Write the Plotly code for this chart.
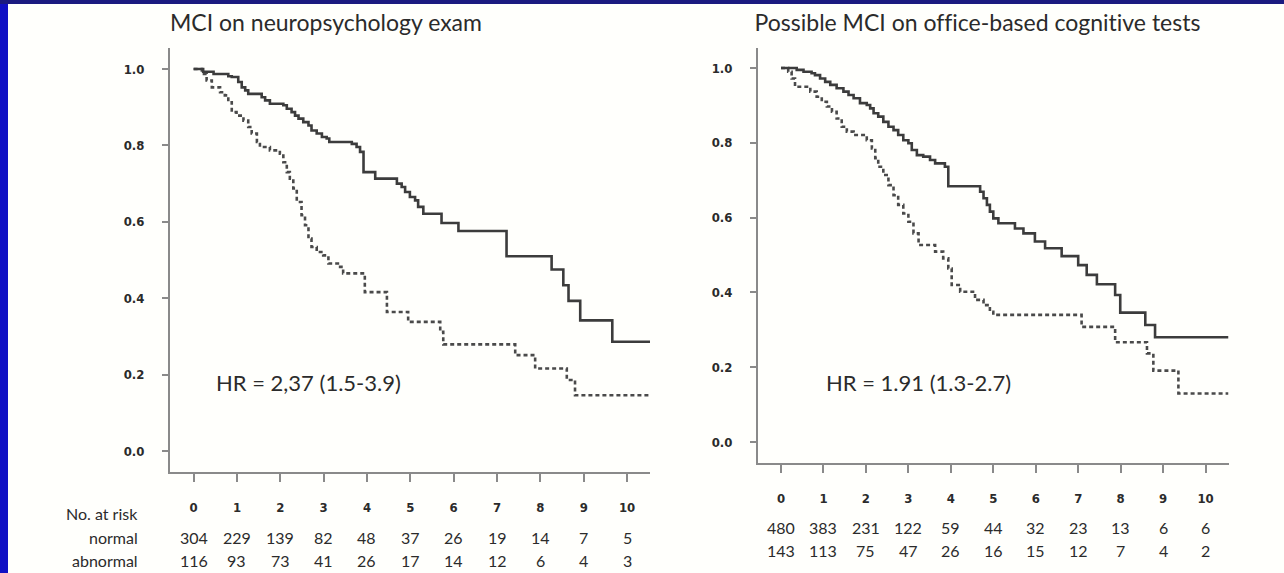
import plotly.graph_objects as go

W, H = 1284, 573

# ---------------- data ----------------
years = list(range(11))
y_ticks = [0.0, 0.2, 0.4, 0.6, 0.8, 1.0]

# Panel 1: MCI on neuropsychology exam
p1_normal_t = [0, 0.22, 0.46, 0.80, 0.88, 1.03, 1.11, 1.19, 1.26, 1.57, 1.65, 1.76, 2.07, 2.15, 2.26,
               2.34, 2.42, 2.53, 2.65, 2.72, 2.84, 2.96, 3.07, 3.13, 3.65, 3.76, 3.84, 3.92, 4.19, 4.69,
               4.80, 4.88, 4.99, 5.11, 5.18, 5.30, 5.72, 6.11, 7.22, 8.26, 8.53, 8.65, 8.92, 9.66, 10.53]
p1_normal_s = [1.0, 0.993, 0.987, 0.981, 0.979, 0.966, 0.952, 0.944, 0.935, 0.926, 0.918, 0.909, 0.905, 0.896, 0.887,
               0.878, 0.870, 0.861, 0.852, 0.839, 0.831, 0.822, 0.818, 0.809, 0.804, 0.796, 0.783, 0.730, 0.713, 0.700,
               0.691, 0.678, 0.665, 0.656, 0.639, 0.621, 0.597, 0.576, 0.510, 0.475, 0.434, 0.393, 0.342, 0.286, 0.286]

p1_abnormal_t = [0, 0.19, 0.30, 0.42, 0.61, 0.72, 0.80, 0.88, 0.99, 1.15, 1.26, 1.34, 1.46, 1.53, 1.76,
                 1.99, 2.07, 2.15, 2.22, 2.30, 2.38, 2.49, 2.57, 2.65, 2.72, 2.84, 2.99, 3.11, 3.38, 3.45,
                 3.95, 4.46, 4.95, 5.69, 5.76, 7.42, 7.88, 8.61, 8.80, 10.53]
p1_abnormal_s = [1.0, 0.987, 0.970, 0.952, 0.939, 0.931, 0.913, 0.887, 0.878, 0.865, 0.848, 0.831, 0.809, 0.796, 0.787,
                 0.778, 0.756, 0.730, 0.713, 0.687, 0.652, 0.617, 0.591, 0.556, 0.534, 0.521, 0.512, 0.491, 0.482, 0.465,
                 0.416, 0.364, 0.338, 0.312, 0.279, 0.251, 0.216, 0.186, 0.146, 0.146]

p1_risk_normal = [304, 229, 139, 82, 48, 37, 26, 19, 14, 7, 5]
p1_risk_abnormal = [116, 93, 73, 41, 26, 17, 14, 12, 6, 4, 3]

# Panel 2: Possible MCI on office-based cognitive tests
p2_normal_t = [0, 0.37, 0.53, 0.72, 0.80, 0.92, 1.04, 1.16, 1.31, 1.47, 1.59, 1.71, 1.86, 2.02, 2.10,
               2.18, 2.29, 2.41, 2.53, 2.65, 2.76, 2.88, 3.00, 3.08, 3.20, 3.35, 3.51, 3.63, 3.86, 3.94,
               4.69, 4.77, 4.85, 4.92, 5.00, 5.12, 5.51, 5.71, 5.98, 6.22, 6.61, 7.00, 7.20, 7.44, 7.87,
               7.99, 8.58, 8.81, 10.54]
p2_normal_s = [1.0, 0.995, 0.990, 0.986, 0.981, 0.972, 0.963, 0.955, 0.946, 0.937, 0.928, 0.919, 0.906, 0.901, 0.892,
               0.879, 0.870, 0.856, 0.843, 0.834, 0.821, 0.807, 0.799, 0.781, 0.767, 0.763, 0.754, 0.745, 0.736, 0.684,
               0.669, 0.652, 0.634, 0.616, 0.598, 0.585, 0.571, 0.558, 0.536, 0.518, 0.497, 0.473, 0.447, 0.422, 0.393,
               0.346, 0.313, 0.280, 0.280]

p2_abnormal_t = [0, 0.17, 0.25, 0.33, 0.69, 0.84, 0.96, 1.08, 1.20, 1.31, 1.43, 1.55, 1.71, 2.02, 2.14,
                 2.22, 2.29, 2.41, 2.53, 2.65, 2.76, 2.88, 3.00, 3.12, 3.24, 3.63, 3.82, 3.94, 4.02, 4.22,
                 4.57, 4.77, 4.92, 5.00, 7.08, 7.87, 8.62, 8.77, 9.36, 10.54]
p2_abnormal_s = [1.0, 0.990, 0.972, 0.950, 0.937, 0.923, 0.910, 0.897, 0.883, 0.865, 0.843, 0.830, 0.821, 0.807, 0.785,
                 0.759, 0.736, 0.714, 0.687, 0.660, 0.634, 0.611, 0.589, 0.558, 0.527, 0.509, 0.491, 0.464, 0.420, 0.402,
                 0.380, 0.366, 0.348, 0.340, 0.308, 0.267, 0.237, 0.191, 0.130, 0.130]

p2_risk_normal = [480, 383, 231, 122, 59, 44, 32, 23, 13, 6, 6]
p2_risk_abnormal = [143, 113, 75, 47, 26, 16, 15, 12, 7, 4, 2]

titles = ["MCI on neuropsychology exam", "Possible MCI on office-based cognitive tests"]
hr_texts = ["HR = 2,37 (1.5-3.9)", "HR = 1.91 (1.3-2.7)"]
risk_labels = ["No. at risk", "normal", "abnormal"]

# ---------------- styling ----------------
SOLID = "#3c3c3c"
DOTTED = "#4a4a4a"
AXIS = "#8a8a8a"
TXT = "#2b2b2b"
TEXT_FONT = "Lato, 'Open Sans', sans-serif"
TICK_FONT = "'Liberation Sans Narrow', 'DejaVu Sans Condensed', 'Arial Narrow', sans-serif"

def px_x(p):
    return p / W

def px_y(p):
    return 1 - p / H

fig = go.Figure()

panels = [
    dict(xa="x", ya="y", nt=p1_normal_t, ns=p1_normal_s, at=p1_abnormal_t, as_=p1_abnormal_s),
    dict(xa="x2", ya="y2", nt=p2_normal_t, ns=p2_normal_s, at=p2_abnormal_t, as_=p2_abnormal_s),
]
for p in panels:
    fig.add_trace(go.Scatter(x=p["at"], y=p["as_"], mode="lines", line_shape="hv",
                             line=dict(color=DOTTED, width=2.6, dash="4px,3px"),
                             xaxis=p["xa"], yaxis=p["ya"], showlegend=False, hoverinfo="skip"))
    fig.add_trace(go.Scatter(x=p["nt"], y=p["ns"], mode="lines", line_shape="hv",
                             line=dict(color=SOLID, width=2.6),
                             xaxis=p["xa"], yaxis=p["ya"], showlegend=False, hoverinfo="skip"))

xcommon = dict(tickvals=years, ticks="outside", ticklen=8, tickwidth=2, tickcolor=AXIS,
               showline=True, linecolor=AXIS, linewidth=2, showgrid=False, zeroline=False,
               tickfont=dict(family=TICK_FONT, size=13, color=TXT, weight="bold"),
               ticklabelstandoff=14, fixedrange=True)
ycommon = dict(tickvals=y_ticks, tickformat=".1f", ticks="outside", ticklen=6, tickwidth=2, tickcolor=AXIS,
               showline=True, linecolor=AXIS, linewidth=2, showgrid=False, zeroline=False,
               tickfont=dict(family=TICK_FONT, size=13, color=TXT, weight="bold"),
               ticklabelstandoff=15, fixedrange=True)

fig.update_layout(
    width=W, height=H,
    margin=dict(l=0, r=0, t=0, b=0),
    paper_bgcolor="#fffffc", plot_bgcolor="rgba(0,0,0,0)",
    xaxis=dict(domain=[px_x(170), px_x(650)], range=[-0.545, 10.53], anchor="y", **xcommon),
    yaxis=dict(domain=[px_y(472), px_y(48)], range=[-0.055, 1.055], anchor="x", **ycommon),
    xaxis2=dict(domain=[px_x(758), px_x(1228.5)], range=[-0.542, 10.54], anchor="y2", **xcommon),
    yaxis2=dict(domain=[px_y(463), px_y(48)], range=[-0.056, 1.0535], anchor="x2", **ycommon),
)

# decorative slide frame
fig.add_shape(type="rect", xref="paper", yref="paper", x0=0, x1=1, y0=px_y(4), y1=1,
              fillcolor="#1b1a80", line_width=0, layer="below")
fig.add_shape(type="rect", xref="paper", yref="paper", x0=0, x1=px_x(8), y0=0, y1=px_y(4),
              fillcolor="#1010c4", line_width=0, layer="below")

ann = []
# titles
for x0, t in zip([168, 753], titles):
    ann.append(dict(text=t, x=px_x(x0), y=px_y(22), xref="paper", yref="paper",
                    xanchor="left", yanchor="middle", showarrow=False,
                    font=dict(family=TEXT_FONT, size=23, color=TXT)))
# HR texts
for x0, yc, t in zip([214, 824], [383, 382], hr_texts):
    ann.append(dict(text=t, x=px_x(x0), y=px_y(yc), xref="paper", yref="paper",
                    xanchor="left", yanchor="middle", showarrow=False,
                    font=dict(family=TEXT_FONT, size=22, color=TXT)))
# risk table labels
for yc, lab in zip([513, 537, 560], risk_labels):
    ann.append(dict(text=lab, x=px_x(140), y=px_y(yc), xref="paper", yref="paper",
                    xanchor="right", yanchor="middle", showarrow=False,
                    font=dict(family=TEXT_FONT, size=16, color=TXT)))
# risk numbers
for xa, rows, ys in [("x", [p1_risk_normal, p1_risk_abnormal], [537, 560]),
                     ("x2", [p2_risk_normal, p2_risk_abnormal], [527, 550])]:
    for row, yc in zip(rows, ys):
        for yr, n in zip(years, row):
            ann.append(dict(text=str(n), x=yr, y=px_y(yc), xref=xa, yref="paper",
                            xanchor="center", yanchor="middle", showarrow=False,
                            font=dict(family=TEXT_FONT, size=16, color=TXT)))
fig.update_layout(annotations=ann)

# turn off typographic ligatures (Lato's "ti") so text renders letter by letter
no_liga = ("var s=document.createElement('style');"
           "s.textContent='text{font-variant-ligatures:none;font-feature-settings:\"liga\" 0,\"clig\" 0;}';"
           "document.head.appendChild(s);")
fig.write_html("out.html", post_script=no_liga)
